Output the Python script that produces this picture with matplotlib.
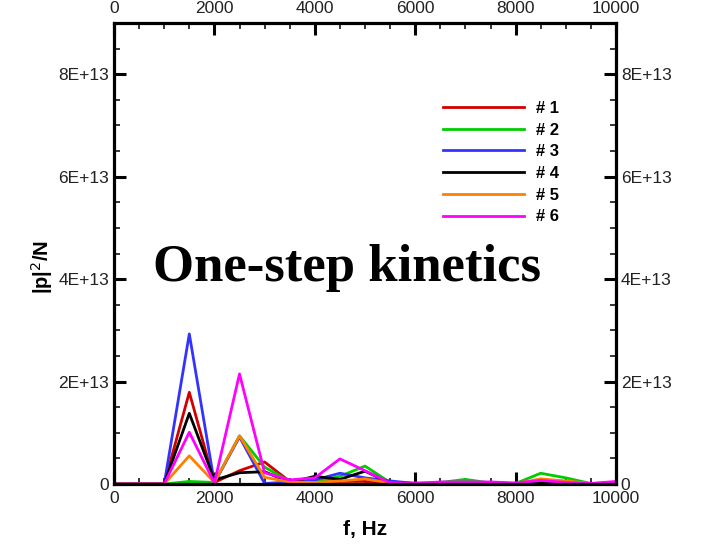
import numpy as np
import matplotlib
matplotlib.use("Agg")
import matplotlib.pyplot as plt
from matplotlib.ticker import MultipleLocator, FuncFormatter

plt.rcParams["font.family"] = ["Liberation Sans", "DejaVu Sans"]

# frequency samples (Hz) and |p|^2/N in units of 1e12
freq = np.arange(0, 10001, 500)
case1 = [0, 0, 0, 17.9, 0.3, 2.6, 4.3, 0.5, 0.4, 0.5, 0.5, 0.2, 0.1, 0.1, 0.1, 0.1, 0.1, 0.3, 0.2, 0.1, 0.2]
case2 = [0, 0, 0, 0.5, 0.3, 9.4, 3.3, 0.5, 0.4, 1.5, 3.5, 0.3, 0.2, 0.3, 0.9, 0.2, 0.1, 2.1, 1.2, 0.1, 0.2]
case3 = [0, 0, 0, 29.3, 0.2, 9.2, 0.1, 0.4, 0.8, 2.1, 1.2, 0.6, 0.1, 0.1, 0.2, 0.1, 0.1, 0.3, 0.2, 0.1, 0.1]
case4 = [0, 0, 0, 13.8, 0.8, 2.2, 2.4, 0.3, 1.5, 0.9, 2.5, 0.2, 0.1, 0.1, 0.1, 0.1, 0.1, 0.2, 0.1, 0.1, 0.1]
case5 = [0, 0, 0, 5.5, 0.3, 9.4, 1.3, 0.4, 0.3, 0.6, 1.0, 0.2, 0.1, 0.1, 0.2, 0.1, 0.1, 1.0, 0.6, 0.1, 0.2]
case6 = [0, 0, 0, 10.1, 0.2, 21.5, 2.2, 0.8, 1.2, 4.9, 2.6, 0.2, 0.1, 0.4, 0.4, 0.4, 0.2, 0.7, 0.3, 0.1, 0.5]

labels = ["# 1", "# 2", "# 3", "# 4", "# 5", "# 6"]
colors = ["#d00000", "#00cc00", "#3333ff", "#000000", "#ff8000", "#ff00ff"]
series = [case1, case2, case3, case4, case5, case6]

fig = plt.figure(figsize=(7.02, 5.44), dpi=100)
ax = fig.add_axes([114 / 702, 1 - 484 / 544, 502 / 702, 461 / 544])

for vals, lab, col in zip(series, labels, colors):
    ax.plot(freq, np.array(vals) * 1e12, color=col, lw=2.0, label=lab)

ax.set_xlim(0, 10000)
ax.set_ylim(0, 9.0e13)
ax.xaxis.set_major_locator(MultipleLocator(2000))
ax.xaxis.set_minor_locator(MultipleLocator(500))
ax.yaxis.set_major_locator(MultipleLocator(2e13))
ax.yaxis.set_minor_locator(MultipleLocator(5e12))


def sci(v, pos):
    if v == 0:
        return "0"
    m, e = f"{v:.0E}".split("E")
    return f"{m}E+{int(e)}"


ax.yaxis.set_major_formatter(FuncFormatter(sci))

ax.tick_params(which="both", direction="in", top=True, right=True,
               labeltop=True, labelright=True, labelsize=12.5, pad=3.5,
               labelcolor="#222222")
ax.tick_params(axis="x", which="both", pad=5)
ax.tick_params(which="major", length=8.5, width=2.2)
ax.tick_params(which="minor", length=4.5, width=1.1)
for sp in ax.spines.values():
    sp.set_linewidth(2.3)

ax.set_xlabel("f, Hz", fontsize=15, fontweight="bold", labelpad=10)
ax.set_ylabel(r"|p|$^2$/N", fontsize=14.5, fontweight="bold")
ax.yaxis.set_label_coords(-0.118, 0.47)

ax.legend(loc="upper left", bbox_to_anchor=(443 / 702, 1 - 101 / 544),
          bbox_transform=fig.transFigure, frameon=False, borderpad=0,
          borderaxespad=0, handlelength=4.85, handletextpad=0.7,
          labelspacing=0.40, prop={"size": 12, "weight": "bold"})

fig.text(347 / 702, 1 - 268 / 544, "One-step kinetics", ha="center", va="center",
         fontsize=38, fontweight="bold", family=["Liberation Serif", "DejaVu Serif"])

fig.savefig("out.png", dpi=100)
